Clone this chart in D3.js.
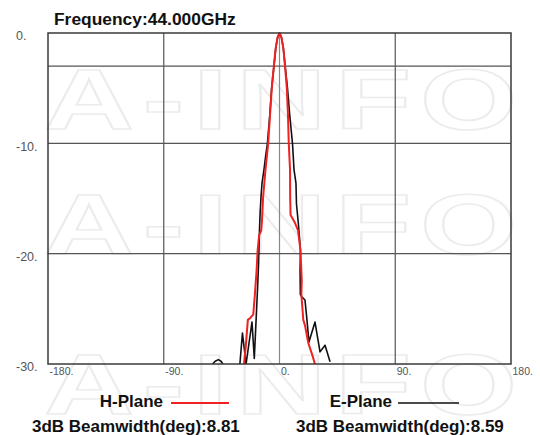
<!DOCTYPE html>
<html>
<head>
<meta charset="utf-8">
<script src="https://cdn.jsdelivr.net/npm/d3@7/dist/d3.min.js"></script>
<style>
  html, body { margin: 0; padding: 0; background: #fff; }
  svg { display: block; font-family: "Liberation Sans", Arial, sans-serif; }
</style>
</head>
<body>
<svg id="chart" width="540" height="435"></svg>
<script>
// ---- data ----
const titleText = "Frequency:44.000GHz";
const xTicks = [-180, -90, 0, 90, 180];
const xTickLabels = ["-180.", "-90.", "0.", "90.", "180."];
const yTicks = [0, -10, -20, -30];
const yTickLabels = ["0.", "-10.", "-20.", "-30."];
const xGrid = [-90, 0, 90];
const yGrid = [-3, -10, -20];

// H-Plane (red): angle (deg) and relative gain (dB)
const hAngles = [-27.6, -26.3, -24.6, -22.5, -20.4, -19.2, -17.8, -17.0, -15.8, -14.2, -13.6, -12.8, -11.0, -8.8, -7.4, -6.0, -4.4, -3.0, -1.5, 0,
                 1.5, 3.0, 4.3, 5.7, 6.6, 7.2, 8.2, 8.3, 8.6, 12.0, 14.4, 16.3, 17.3, 17.0, 18.5, 19.8, 22.4, 25.5, 27.6];
const hGain   = [-30, -28.5, -26.0, -25.8, -25.5, -23.8, -21.5, -19.7, -18.3, -17.9, -17.0, -15.0, -12.5, -10.0, -7.5, -5.0, -3.0, -1.4, -0.4, 0,
                 -0.4, -1.4, -3.0, -5.0, -7.5, -10.0, -12.4, -14.9, -16.5, -17.2, -17.9, -19.7, -22.4, -23.7, -26.0, -26.5, -28.1, -29.2, -30];

// E-Plane (black): angle (deg) and relative gain (dB); null = break in the trace
const eAngles = [-52.0, -50.0, -47.5, -45.5, -44.0, null,
                 -30.8, -28.8, -26.0, -21.4, -19.6, -18.0, -17.0, -16.3, -15.6, -15.2, -14.4, -13.6, -12.1, -10.6, -9.4, -7.6, -6.1, -4.3, -2.9, -1.5, 0,
                 1.5, 2.9, 4.4, 6.2, 8.0, 10.1, 11.3, 12.8, 13.2, 14.6, 16.3, 16.0, 16.2, 17.3, 19.8, 21.1, 22.9, 27.6, 31.5, 35.4, 39.3];
const eGain   = [-30, -29.75, -29.6, -29.75, -30, null,
                 -30, -27.2, -30, -26.2, -29.5, -25.5, -23.0, -21.0, -18.0, -16.7, -14.9, -13.6, -12.4, -11.0, -10.0, -7.5, -5.0, -3.0, -1.4, -0.4, 0,
                 -0.4, -1.3, -3.0, -5.0, -7.5, -10.0, -12.4, -13.6, -15.5, -17.2, -19.7, -21.5, -23.7, -23.9, -24.2, -25.7, -28.0, -26.2, -28.9, -28.3, -29.8];

const legendNames = ["H-Plane", "E-Plane"];
const beamwidths = ["3dB Beamwidth(deg):8.81", "3dB Beamwidth(deg):8.59"];
const watermark = "A-INFO";

// ---- drawing ----
const svg = d3.select("#chart");
const pLeft = 48, pRight = 511, pTop = 33, pBottom = 364;
const x = d3.scaleLinear().domain([-180, 180]).range([pLeft, pRight]);
const y = d3.scaleLinear().domain([-30, 0]).range([pBottom, pTop]);

// faint watermark
const wm = svg.append("g").attr("fill", "none").attr("stroke", "#ececec").attr("stroke-width", 1.6);
[129, 254, 414].forEach(by => {
  wm.append("text").attr("transform", `translate(44,${by}) scale(1.45,1)`)
    .attr("font-size", 86).attr("font-weight", "bold")
    .attr("letter-spacing", 6).text(watermark);
});

// grid
const grid = svg.append("g").attr("stroke", "#555").attr("stroke-width", 1.2);
grid.selectAll("line.v").data(xGrid).join("line").attr("class", "v")
  .attr("x1", d => x(d)).attr("x2", d => x(d)).attr("y1", pTop).attr("y2", pBottom)
  .attr("stroke", d => d === 0 ? "#888" : "#555");
grid.selectAll("line.h").data(yGrid).join("line").attr("class", "h")
  .attr("x1", pLeft).attr("x2", pRight).attr("y1", d => y(d)).attr("y2", d => y(d));

// clip
svg.append("clipPath").attr("id", "plotclip").append("rect")
  .attr("x", pLeft).attr("y", pTop - 2).attr("width", pRight - pLeft).attr("height", pBottom - pTop + 2);

const line = d3.line()
  .defined(d => d[0] !== null && d[1] !== null)
  .x(d => x(d[0])).y(d => y(d[1]));

const plot = svg.append("g").attr("clip-path", "url(#plotclip)");
plot.append("path").datum(eAngles.map((a, i) => [a, eGain[i]]))
  .attr("d", line).attr("fill", "none").attr("stroke", "#111").attr("stroke-width", 1.6)
  .attr("stroke-linejoin", "round");
plot.append("path").datum(hAngles.map((a, i) => [a, hGain[i]]))
  .attr("d", line).attr("fill", "none").attr("stroke", "#ee2222").attr("stroke-width", 2)
  .attr("stroke-linejoin", "round");

// frame
svg.append("rect").attr("x", pLeft).attr("y", pTop).attr("width", pRight - pLeft).attr("height", pBottom - pTop)
  .attr("fill", "none").attr("stroke", "#3a3a3a").attr("stroke-width", 1.5);

// x axis labels
const xAxis = d3.axisBottom(x).tickValues(xTicks).tickSize(0)
  .tickFormat((d, i) => xTickLabels[i]);
const gx = svg.append("g").attr("transform", `translate(0,${pBottom})`).call(xAxis);
gx.select(".domain").remove();
gx.selectAll("text").attr("text-anchor", "start").attr("dx", 1).attr("y", 4).attr("dy", "0.71em")
  .attr("fill", "#555").attr("font-size", 10.5).attr("font-family", "Liberation Sans, Arial, sans-serif");

// y axis labels
const yAxis = d3.axisLeft(y).tickValues(yTicks).tickSize(0)
  .tickFormat((d, i) => yTickLabels[i]);
const gy = svg.append("g").attr("transform", `translate(${pLeft},0)`).call(yAxis);
gy.select(".domain").remove();
gy.selectAll("text").attr("text-anchor", "start").attr("x", -32).attr("dy", "0.55em")
  .attr("fill", "#555").attr("font-size", 12.5).attr("font-family", "Liberation Sans, Arial, sans-serif");

// title
svg.append("text").attr("x", 54).attr("y", 25).attr("font-size", 17.4).attr("font-weight", "bold")
  .attr("fill", "#111").text(titleText);

// legend
const lg = svg.append("g").attr("font-weight", "bold").attr("font-size", 17).attr("fill", "#111");
lg.append("text").attr("x", 163).attr("y", 407).attr("text-anchor", "end").text(legendNames[0]);
lg.append("line").attr("x1", 171).attr("x2", 229).attr("y1", 403).attr("y2", 403)
  .attr("stroke", "#ee2222").attr("stroke-width", 2);
lg.append("text").attr("x", 32).attr("y", 432).text(beamwidths[0]);
lg.append("text").attr("x", 392).attr("y", 407).attr("text-anchor", "end").text(legendNames[1]);
lg.append("line").attr("x1", 398).attr("x2", 459).attr("y1", 403).attr("y2", 403)
  .attr("stroke", "#111").attr("stroke-width", 1.6);
lg.append("text").attr("x", 296).attr("y", 432).text(beamwidths[1]);
</script>
</body>
</html>
